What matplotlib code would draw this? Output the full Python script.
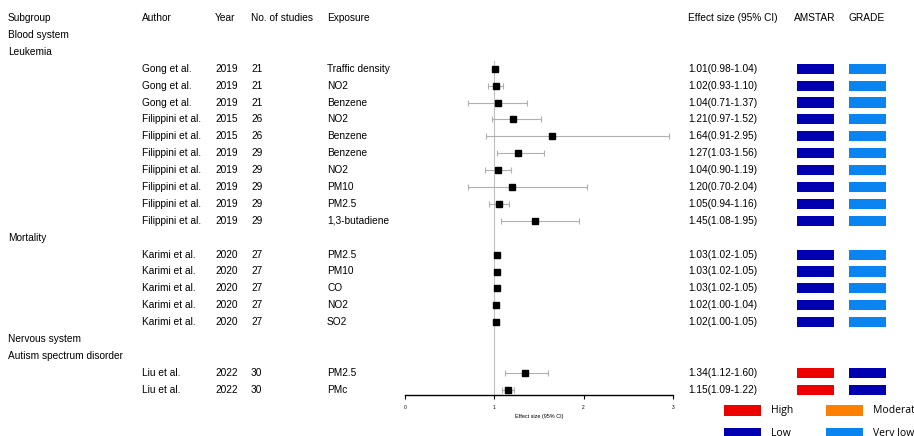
import matplotlib.pyplot as plt
import matplotlib.transforms as mtransforms
from matplotlib.patches import Rectangle

plt.rcParams['font.family'] = ['Liberation Sans', 'DejaVu Sans']

# data
headers = ["Subgroup", "Author", "Year", "No. of studies", "Exposure",
           "Effect size (95% CI)", "AMSTAR", "GRADE"]
groups = [("Blood system", "Leukemia", 10), ("Mortality", None, 5),
          ("Nervous system", "Autism spectrum disorder", 2)]
authors = ["Gong et al."] * 3 + ["Filippini et al."] * 7 + ["Karimi et al."] * 5 + ["Liu et al."] * 2
years = [2019] * 3 + [2015] * 2 + [2019] * 5 + [2020] * 5 + [2022] * 2
n_studies = [21] * 3 + [26] * 2 + [29] * 5 + [27] * 5 + [30] * 2
exposures = ["Traffic density", "NO2", "Benzene", "NO2", "Benzene", "Benzene", "NO2",
             "PM10", "PM2.5", "1,3-butadiene", "PM2.5", "PM10", "CO", "NO2", "SO2",
             "PM2.5", "PMc"]
est = [1.01, 1.02, 1.04, 1.21, 1.64, 1.27, 1.04, 1.20, 1.05, 1.45,
       1.03, 1.03, 1.03, 1.02, 1.02, 1.34, 1.15]
lo = [0.98, 0.93, 0.71, 0.97, 0.91, 1.03, 0.90, 0.70, 0.94, 1.08,
      1.02, 1.02, 1.02, 1.00, 1.00, 1.12, 1.09]
hi = [1.04, 1.10, 1.37, 1.52, 2.95, 1.56, 1.19, 2.04, 1.16, 1.95,
      1.05, 1.05, 1.05, 1.04, 1.05, 1.60, 1.22]
amstar = ["Low"] * 15 + ["High"] * 2
grade = ["Very low"] * 15 + ["Low"] * 2
rating_colors = {"High": "#ee0000", "Moderate": "#ff8000", "Low": "#0000b0", "Very low": "#0a84f0"}

# row layout
labels_rows = []  # (row, text)
data_rows = []
r = 1
for g1, g2, n in groups:
    labels_rows.append((r, g1)); r += 1
    if g2:
        labels_rows.append((r, g2)); r += 1
    for _ in range(n):
        data_rows.append(r); r += 1

W, H = 914, 436
fig = plt.figure(figsize=(W / 100, H / 100), dpi=100)
step = 16.9
top_row = -18 / step
bot_row = (395 - 18) / step
ax = fig.add_axes([405 / W, 1 - 395 / H, (673 - 405) / W, 395 / H])
ax.set_xlim(0, 3)
ax.set_ylim(bot_row, top_row)
for s in ["top", "left", "right"]:
    ax.spines[s].set_visible(False)
ax.spines["bottom"].set_linewidth(1.0)
ax.set_yticks([])
ax.set_xticks([0, 1, 2, 3])
ax.tick_params(axis="x", labelsize=3.5, length=3, width=0.8, pad=4)
ax.set_xlabel("Effect size (95% CI)", fontsize=4, labelpad=3)

ax.plot([1, 1], [data_rows[0] - 0.45, bot_row], color="#c0c0c0", lw=0.8, zorder=1)
xerr = [[e - l for e, l in zip(est, lo)], [h - e for e, h in zip(est, hi)]]
ax.errorbar(est, data_rows, xerr=xerr, fmt="s", color="black", ms=4.5,
            ecolor="#b0b0b0", elinewidth=0.8, capsize=2, capthick=0.8, zorder=3)

tr = mtransforms.blended_transform_factory(fig.transFigure, ax.transData)
fs = 7.3
col_x = [8, 142, 215, 251, 327, 688, 815, 867]
for i, h in enumerate(headers):
    ha = "center" if i >= 6 else "left"
    ax.text(col_x[i] / W, 0, h, transform=tr, fontsize=fs, ha=ha, va="center")
for row, txt in labels_rows:
    ax.text(8 / W, row, txt, transform=tr, fontsize=fs, va="center")
for i, row in enumerate(data_rows):
    vals = [authors[i], str(years[i]), str(n_studies[i]), exposures[i],
            f"{est[i]:.2f}({lo[i]:.2f}-{hi[i]:.2f})"]
    for x, v in zip(col_x[1:6], vals):
        ax.text(x / W, row, v, transform=tr, fontsize=fs, va="center")
    for x0, rating in ((797, amstar[i]), (849, grade[i])):
        ax.add_patch(Rectangle((x0 / W, row - 0.3), 37 / W, 0.6, transform=tr,
                               facecolor=rating_colors[rating], edgecolor="none",
                               clip_on=False))

# legend
leg = [("High", 724, 410), ("Moderate", 826, 410), ("Low", 724, 433), ("Very low", 826, 433)]
for name, x0, yc in leg:
    fig.add_artist(Rectangle((x0 / W, 1 - (yc + 5.5) / H), 37 / W, 11 / H,
                             transform=fig.transFigure, facecolor=rating_colors[name],
                             edgecolor="none"))
    fig.text((x0 + 47) / W, 1 - yc / H, name, fontsize=7.5, va="center",
             family=["Open Sans", "DejaVu Sans"])

fig.savefig("out.png", dpi=100)
